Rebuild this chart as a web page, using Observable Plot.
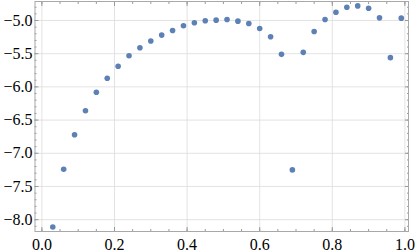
<!DOCTYPE html>
<html>
<head>
<meta charset="utf-8">
<script src="https://cdn.jsdelivr.net/npm/d3@7"></script>
<script src="https://cdn.jsdelivr.net/npm/@observablehq/plot@0.6"></script>
<style>
  html, body { margin: 0; padding: 0; background: #fff; }
</style>
</head>
<body>
<div id="chart"></div>
<script>
const xValues = [0.03,0.06,0.09,0.12,0.15,0.18,0.21,0.24,0.27,0.30,0.33,0.36,0.39,0.42,0.45,0.48,0.51,0.54,0.57,0.60,0.63,0.66,0.69,0.72,0.75,0.78,0.81,0.84,0.87,0.90,0.93,0.96,0.99];
const yValues = [-8.11,-7.24,-6.72,-6.36,-6.08,-5.87,-5.69,-5.53,-5.41,-5.31,-5.22,-5.15,-5.08,-5.035,-5.005,-4.995,-4.985,-5.01,-5.045,-5.12,-5.245,-5.51,-7.25,-5.48,-5.165,-4.985,-4.875,-4.80,-4.78,-4.815,-4.96,-5.56,-4.965];
const xTicks = [0.0,0.2,0.4,0.6,0.8,1.0];
const yTicks = [-8.0,-7.5,-7.0,-6.5,-6.0,-5.5,-5.0];
const xMinor = d3.range(0, 1.0001, 0.05).map(v => +v.toFixed(2));
const yMinor = d3.range(-8.1, -4.7, 0.1).map(v => +v.toFixed(1));

const data = xValues.map((x, i) => ({x, y: yValues[i]}));
const fmt = d3.format(".1f");
const tickColor = "#9a9a9a";

const chart = Plot.plot({
  width: 415,
  height: 252,
  marginLeft: 34.5,
  marginRight: 7,
  marginTop: 1,
  marginBottom: 21,
  style: {fontFamily: "'Liberation Serif', 'Times New Roman', serif", fontSize: "16px", color: "#000", background: "#fff"},
  x: {domain: [-0.019, 1.0099]},
  y: {domain: [-8.178, -4.714]},
  marks: [
    Plot.gridX(xTicks, {stroke: "#dcdcdc", strokeOpacity: 1, strokeWidth: 0.8}),
    Plot.gridY(yTicks, {stroke: "#dcdcdc", strokeOpacity: 1, strokeWidth: 0.8}),
    // major ticks (inward) on all sides
    Plot.axisX(xTicks, {anchor: "bottom", tickSize: -4, text: null, label: null, stroke: tickColor}),
    Plot.axisX(xTicks, {anchor: "top", tickSize: -4, text: null, label: null, stroke: tickColor}),
    Plot.axisY(yTicks, {anchor: "left", tickSize: -4, text: null, label: null, stroke: tickColor}),
    Plot.axisY(yTicks, {anchor: "right", tickSize: -4, text: null, label: null, stroke: tickColor}),
    // minor ticks
    Plot.axisX(xMinor, {anchor: "bottom", tickSize: -2, text: null, label: null, stroke: tickColor}),
    Plot.axisX(xMinor, {anchor: "top", tickSize: -2, text: null, label: null, stroke: tickColor}),
    Plot.axisY(yMinor, {anchor: "left", tickSize: -2, text: null, label: null, stroke: tickColor}),
    Plot.axisY(yMinor, {anchor: "right", tickSize: -2, text: null, label: null, stroke: tickColor}),
    // labels
    Plot.axisX(xTicks, {anchor: "bottom", tickSize: 0, tickPadding: 7, tickFormat: fmt, label: null, fill: "#000"}),
    Plot.axisY(yTicks, {anchor: "left", tickSize: 0, tickPadding: 2.5, tickFormat: fmt, label: null, fill: "#000"}),
    Plot.frame({stroke: "#a8a8a8", strokeWidth: 1}),
    Plot.dot(data, {x: "x", y: "y", r: 2.8, fill: "#5E81B5", stroke: "none"})
  ]
});
document.getElementById("chart").appendChild(chart);
</script>
</body>
</html>
